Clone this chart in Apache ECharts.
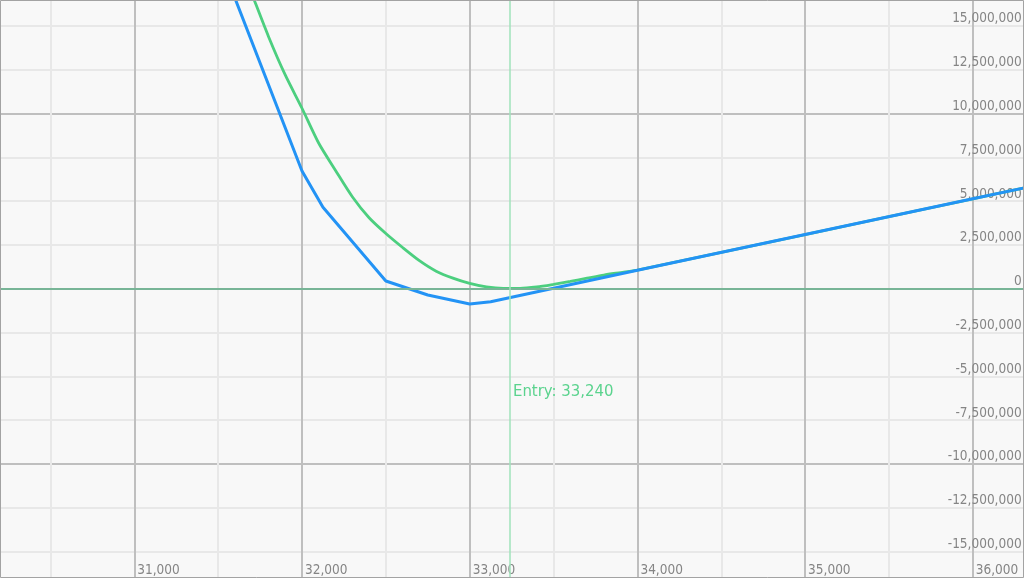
<!DOCTYPE html>
<html>
<head>
<meta charset="utf-8">
<script src="https://cdn.jsdelivr.net/npm/echarts@6/dist/echarts.min.js"></script>
<style>
html,body{margin:0;padding:0;background:#f8f8f8;}
#chart{width:1024px;height:578px;}
</style>
</head>
<body>
<div id="chart"></div>
<script>
// ---- data ----
const blueX = [31500, 32000, 32125, 32500, 32750, 33000, 33125, 34000, 35000, 36000, 36300];
const blueY = [19050000, 6720000, 4650000, 440000, -360000, -870000, -740000, 1050000, 3090000, 5130000, 5740000];

const greenX = [31600, 31700, 31800, 31900, 32000, 32100, 32200, 32300, 32400, 32500,
                32600, 32700, 32800, 32900, 33000, 33100, 33200, 33300, 33400, 33500,
                33600, 33700, 33800, 33900, 34000, 35000, 36000, 36300];
const greenY = [19300000, 16850000, 14400000, 12200000, 10300000, 8300000, 6750000, 5250000, 4050000, 3150000,
                2350000, 1600000, 1000000, 600000, 300000, 100000, 20000, 20000, 100000, 250000,
                420000, 600000, 780000, 920000, 1060000, 3090000, 5130000, 5740000];

const xLabelValues = [31000, 32000, 33000, 34000, 35000, 36000];
const entryPrice = 33240;
const entryLabel = 'Entry: 33,240';
const xTickStep = 500;
const yTickStep = 2500000;

const fmt = v => Math.round(v).toLocaleString('en-US');
const FONT = '"DejaVu Sans Condensed", "DejaVu Sans", sans-serif';

const chart = echarts.init(document.getElementById('chart'), null, {renderer: 'canvas'});

const light = '#e8e8e8';
const dark = '#bfbfbf';

chart.setOption({
  animation: false,
  backgroundColor: '#f8f8f8',
  grid: {left: -33.4, right: -32.65, top: -17.9, bottom: -17.3, containLabel: false, outerBoundsMode: 'none'},
  xAxis: {
    type: 'value',
    min: 30000, max: 36500, interval: xTickStep,
    axisLine: {show: false}, axisTick: {show: false},
    splitLine: {show: true, lineStyle: {color: [dark, light], width: 2}},
    axisLabel: {
      inside: true, interval: 0, margin: 18,
      align: 'left', verticalAlign: 'bottom', padding: [0, 0, 0, 3],
      color: '#858585', fontFamily: FONT, fontSize: 13.5,
      formatter: v => (xLabelValues.indexOf(v) >= 0 ? fmt(v) : '')
    }
  },
  yAxis: {
    type: 'value', position: 'right',
    min: -17500000, max: 17500000, interval: yTickStep,
    axisLine: {show: false}, axisTick: {show: false},
    splitLine: {show: true, lineStyle: {color: [light, light, light, dark], width: 2}},
    axisLabel: {
      inside: true, margin: 35, align: 'right', verticalAlign: 'bottom',
      color: '#858585', fontFamily: FONT, fontSize: 13.5,
      formatter: v => fmt(v)
    }
  },
  series: [
    {
      type: 'line', name: 'T+0',
      data: greenX.map((x, i) => [x, greenY[i]]),
      showSymbol: false, symbol: 'none', smooth: 0.25,
      lineStyle: {color: '#4ccf7f', width: 2.8},
      z: 3,
      markLine: {
        silent: true, symbol: 'none', label: {show: false},
        data: [
          {yAxis: 0, lineStyle: {color: '#78b597', width: 2, type: 'solid'}},
          {xAxis: entryPrice, lineStyle: {color: '#a0e3bb', width: 1.5, type: 'solid'}}
        ]
      },
      markPoint: {
        silent: true, symbol: 'circle', symbolSize: 0,
        data: [{coord: [entryPrice, -5900000], value: entryLabel}],
        label: {
          show: true, position: 'right', distance: 3,
          formatter: entryLabel, color: '#5bd38e',
          fontFamily: FONT, fontSize: 16.6
        }
      }
    },
    {
      type: 'line', name: 'Expiry',
      data: blueX.map((x, i) => [x, blueY[i]]),
      showSymbol: false, symbol: 'none',
      lineStyle: {color: '#2393f5', width: 3},
      z: 4
    }
  ],
  graphic: [{
    type: 'rect', z: 100, silent: true,
    shape: {x: 0.5, y: 0.5, width: 1023, height: 577},
    style: {fill: 'none', stroke: '#a3a3a3', lineWidth: 1}
  }]
});
</script>
</body>
</html>
